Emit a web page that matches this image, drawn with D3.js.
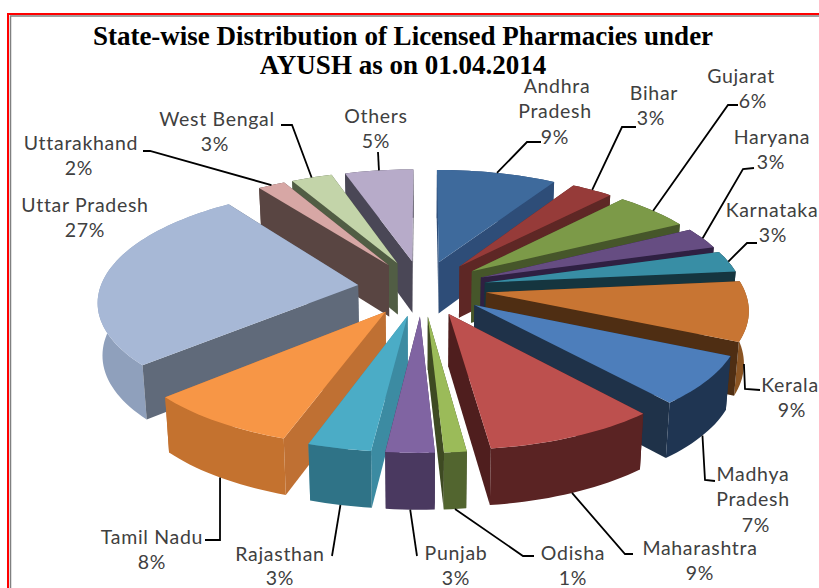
<!DOCTYPE html>
<html>
<head>
<meta charset="utf-8">
<script src="https://cdn.jsdelivr.net/npm/d3@7"></script>
<style>
    html, body { margin: 0; padding: 0; background: #fff; overflow: hidden; }
    .label { font-family: Lato, "Open Sans", sans-serif; font-size: 19.5px; fill: #404040; letter-spacing: 0.7px; text-anchor: middle; }
    .title { font-family: "Liberation Serif", serif; font-size: 27px; font-weight: bold; fill: #000; text-anchor: middle; }
    .leader { fill: none; stroke: #000; stroke-width: 1.8; }
</style>
</head>
<body>
<svg id="chart" width="819" height="588"></svg>
<script>
const states = ["Andhra Pradesh", "Bihar", "Gujarat", "Haryana", "Karnataka", "Kerala", "Madhya Pradesh", "Maharashtra",
    "Odisha", "Punjab", "Rajasthan", "Tamil Nadu", "Uttar Pradesh", "Uttarakhand", "West Bengal", "Others"];
//labels are rounded, these are estimated from the size of the slices
const shares = [8.75, 3.05, 5.6, 3.1, 3.1, 8.6, 7.0, 9.3, 1.2, 2.6, 3.4, 8.3, 27, 2, 3, 5];
const titleLines = ["State-wise Distribution of Licensed Pharmacies under", "AYUSH as on 01.04.2014"];

//colours per slice
const topColors = ["#3e6a9c", "#963b39", "#7c9a48", "#664d82", "#388ea5", "#c87533", "#4d7ebb", "#bd504e",
    "#9bbb59", "#8064a2", "#4bacc6", "#f79646", "#a7b8d6", "#d7a7a5", "#c3d4a9", "#b7abc9"];
const wallColors = ["#2e4d78", "#5e2725", "#46562a", "#2f2042", "#15353f", "#4f2e13", "#1f3249", "#4f1e1e",
    "#3e4a22", "#3f3053", "#3c8ba2", "#bf7033", "#606a7a", "#594542", "#515d44", "#4a4756"];
const rimColors = ["#2e4d78", "#5e2725", "#46562a", "#2f2042", "#15353f", "#8a5423", "#1f3552", "#5a2323",
    "#52652f", "#4a3960", "#2f7387", "#c4722f", "#8fa0bc", "#594542", "#515d44", "#4a4756"];

//hand placed labels: text lines, then elbow points of the leader line
const labelLayout = [
    {x: [557, 555, 555], y: [93, 118, 144], elbow: [[527, 142], [541, 142]]},
    {x: [654, 651], y: [100, 125], elbow: [[622, 127], [636, 127]]},
    {x: [741, 753], y: [83, 108], elbow: [[728, 105], [738, 105]]},
    {x: [772, 771], y: [144, 169], elbow: [[743, 169], [754, 168]]},
    {x: [772, 773], y: [217, 242], elbow: [[747, 243], [757, 243]]},
    {x: [790, 792], y: [392, 417], elbow: [[745, 389], [760, 390]]},
    {x: [753, 753, 756], y: [481, 506, 532], elbow: [[705, 480], [715, 481]]},
    {x: [700, 700], y: [555, 580], elbow: [[625, 554], [633, 554]]},
    {x: [573, 573], y: [560, 585], elbow: [[523, 556], [534, 556]]},
    {x: [456, 456], y: [560, 585], elbow: [[417, 556]]},
    {x: [280, 280], y: [561, 585], elbow: [[332, 556]]},
    {x: [152, 152], y: [544, 569], elbow: [[220, 540], [205, 540]]},
    {x: [85, 85], y: [212, 237], elbow: null},
    {x: [81, 79], y: [150, 175], elbow: [[150, 151], [143, 151]]},
    {x: [217, 215], y: [126, 151], elbow: [[292, 125], [281, 125]]},
    {x: [376, 376], y: [123, 148], elbow: [[378, 152]]}
];

const svg = d3.select("#chart");

//pie plane -> screen, with a bit of perspective (v grows toward the viewer)
const cx = 422, cy = 288, rx = 258, ry = 110.5, persp = 0.13, depth = 52, explode = 0.25;

function project(u, v, down) {
    const s = 1 / (1 - persp * v);
    const shrink = down ? 0.985 : 1;
    return [
        cx + rx * u * s * shrink,
        cy + ry * v * s + (down ? depth * Math.sqrt(s) : 0)
    ];
}

function rimPoint(d, a, down) {
    const mid = (d.startAngle + d.endAngle) / 2;
    return project(explode * Math.sin(mid) + Math.sin(a), -explode * Math.cos(mid) - Math.cos(a), down);
}

function apexPoint(d, down) {
    const mid = (d.startAngle + d.endAngle) / 2;
    return project(explode * Math.sin(mid), -explode * Math.cos(mid), down);
}

function arcAngles(d) {
    const n = Math.max(2, Math.ceil((d.endAngle - d.startAngle) / 0.03));
    return d3.range(n + 1).map(i => d.startAngle + (d.endAngle - d.startAngle) * i / n);
}

const line = d3.line().curve(d3.curveLinear);
const pie = d3.pie().sort(null).value(d => d);
const slices = pie(shares).map((d, i) => ({...d, i}));

//frame
svg.append("rect").attr("x", 8).attr("y", 14).attr("width", 830).attr("height", 600)
    .attr("fill", "none").attr("stroke", "#f00").attr("stroke-width", 2);
svg.append("rect").attr("x", 10.5).attr("y", 16).attr("width", 830).attr("height", 600)
    .attr("fill", "none").attr("stroke", "#808080").attr("stroke-width", 1.5);

//back to front
const drawOrder = slices.slice().sort((a, b) =>
    -Math.cos((a.startAngle + a.endAngle) / 2) + Math.cos((b.startAngle + b.endAngle) / 2));

const sliceGroups = svg.selectAll(".slice")
    .data(drawOrder)
    .join("g")
    .classed("slice", true);

sliceGroups.each(function (d) {
    const g = d3.select(this);
    const angles = arcAngles(d);
    const rim = angles.map(a => rimPoint(d, a, false));
    const rimDown = angles.map(a => rimPoint(d, a, true));

    const walls = [
        {pts: [apexPoint(d, false), rim[0], rimDown[0], apexPoint(d, true)], col: wallColors[d.i]},
        {pts: [apexPoint(d, false), rim[rim.length - 1], rimDown[rim.length - 1], apexPoint(d, true)], col: wallColors[d.i]},
        {pts: rim.concat(rimDown.slice().reverse()), col: rimColors[d.i]}
    ];
    walls.sort((a, b) => d3.mean(a.pts, p => p[1]) - d3.mean(b.pts, p => p[1]));

    for (let w of walls) {
        g.append("path").attr("d", line(w.pts) + "Z").attr("fill", w.col);
    }
    g.append("path")
        .attr("d", line([apexPoint(d, false)].concat(rim)) + "Z")
        .attr("fill", topColors[d.i]);
});

//leader lines start on the rim at the middle of the slice
slices.forEach(d => {
    const lay = labelLayout[d.i];
    if (!lay.elbow) return;
    const mid = (d.startAngle + d.endAngle) / 2;
    const start = rimPoint(d, mid, Math.cos(mid) < 0);
    svg.append("path").classed("leader", true).attr("d", line([start].concat(lay.elbow)));
});

//labels
const twoWord = new Set(["Andhra Pradesh", "Madhya Pradesh"]);
slices.forEach(d => {
    const lay = labelLayout[d.i];
    const name = states[d.i];
    const lines = (twoWord.has(name) ? name.split(" ") : [name]).concat(`${Math.round(shares[d.i])}%`);
    lines.forEach((txt, j) => {
        svg.append("text").classed("label", true)
            .attr("x", lay.x[j]).attr("y", lay.y[j]).text(txt);
    });
});

//title
svg.selectAll(".title").data(titleLines).join("text")
    .classed("title", true)
    .attr("x", 403)
    .attr("y", (d, i) => 45 + i * 29)
    .text(d => d);
</script>
</body>
</html>
